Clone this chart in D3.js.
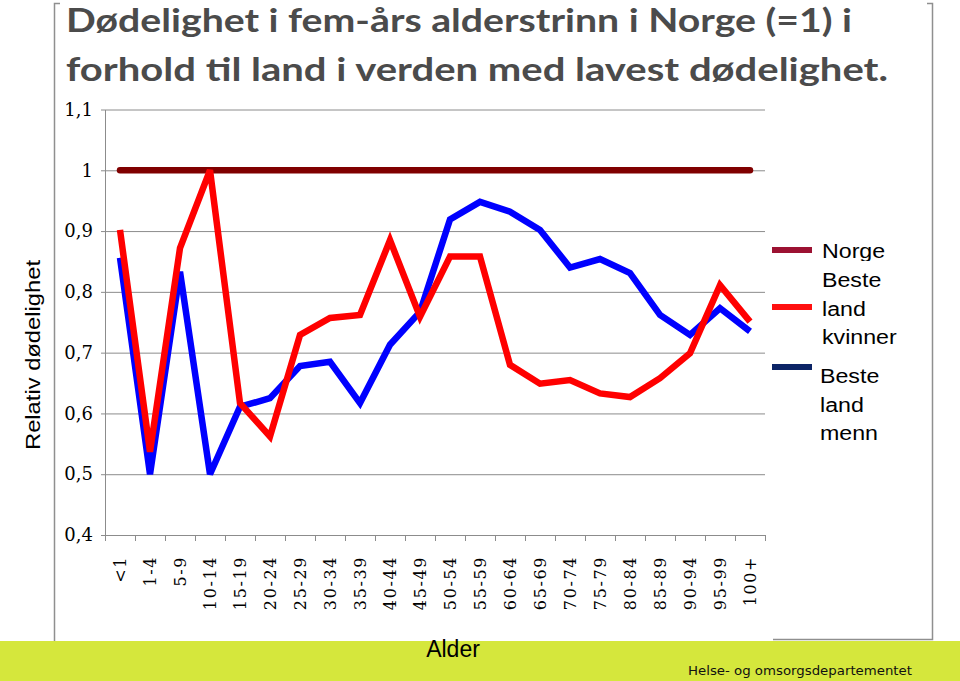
<!DOCTYPE html>
<html><head><meta charset="utf-8">
<script src="https://cdn.jsdelivr.net/npm/d3@7"></script>
<style>html,body{margin:0;padding:0;background:#fff;}svg{display:block;}</style>
</head><body>
<script>
const categories = ["<1","1-4","5-9","10-14","15-19","20-24","25-29","30-34","35-39","40-44","45-49","50-54","55-59","60-64","65-69","70-74","75-79","80-84","85-89","90-94","95-99","100+"];
const norge   = [1,1,1,1,1,1,1,1,1,1,1,1,1,1,1,1,1,1,1,1,1,1];
const kvinner = [0.902,0.537,0.872,1.0,0.617,0.562,0.729,0.757,0.762,0.885,0.759,0.858,0.858,0.680,0.649,0.655,0.633,0.627,0.658,0.699,0.811,0.751];
const menn    = [0.856,0.500,0.833,0.500,0.611,0.625,0.678,0.685,0.617,0.713,0.767,0.919,0.948,0.932,0.902,0.840,0.854,0.831,0.762,0.729,0.773,0.735];
const yTicks = [0.4,0.5,0.6,0.7,0.8,0.9,1.0,1.1];
const yTickLabels = ["0,4","0,5","0,6","0,7","0,8","0,9","1","1,1"];
const titleLines = ["Dødelighet i fem-års alderstrinn i Norge (=1) i","forhold til land i verden med lavest dødelighet."];
const legendItems = [
  {lines:["Norge"], color:"#9c1232"},
  {lines:["Beste","land","kvinner"], color:"#ff1010"},
  {lines:["Beste","land","menn"], color:"#0c2466"}
];

const W = 960, H = 681;
const svg = d3.select("body").append("svg").attr("width", W).attr("height", H);

const x = d3.scaleBand().domain(categories).range([105, 765]);
const y = d3.scaleLinear().domain([0.4, 1.1]).range([535, 109.5]);

// bottom band
svg.append("rect").attr("x",0).attr("y",641).attr("width",W).attr("height",H-641).attr("fill","#d5e73c");

// frame
const frame = svg.append("g").attr("stroke","#8f8f8f").attr("stroke-width",1.5).attr("fill","none");
frame.append("path").attr("d","M60,3.5 H54.5 V641");
frame.append("path").attr("d","M927,3.5 H932.5 V639.5 H773");

// title
const title = svg.append("g").attr("font-family","Lato, 'Open Sans', sans-serif").attr("font-weight","bold")
  .attr("font-size",33).attr("fill","#4b4b4b");
title.append("text").attr("x",66).attr("y",32).attr("textLength",786).attr("lengthAdjust","spacingAndGlyphs").text(titleLines[0]);
title.append("text").attr("x",66).attr("y",81).attr("textLength",822).attr("lengthAdjust","spacingAndGlyphs").text(titleLines[1]);

// gridlines
const grid = svg.append("g").attr("transform","translate(105,0)")
  .call(d3.axisLeft(y).tickValues(yTicks).tickSize(-660).tickFormat(""));
grid.select(".domain").remove();
grid.selectAll("line").attr("stroke","#8c8c8c").attr("stroke-width",1);

// y axis
const yAxis = svg.append("g").attr("transform","translate(105,0)")
  .call(d3.axisLeft(y).tickValues(yTicks).tickSize(4).tickSizeOuter(0).tickPadding(8)
    .tickFormat((d,i)=>yTickLabels[i]));
yAxis.select(".domain").attr("stroke","#8c8c8c");
yAxis.selectAll("line").attr("stroke","#8c8c8c");
yAxis.selectAll("text").attr("font-family","'DejaVu Serif', serif").attr("font-size",18).attr("fill","#000");

// x axis
const xg = svg.append("g");
xg.append("line").attr("x1",x.range()[0]).attr("x2",x.range()[1]).attr("y1",535.5).attr("y2",535.5).attr("stroke","#8c8c8c");
const bounds = categories.map(c=>x(c)).concat([x.range()[1]]);
xg.selectAll(".xt").data(bounds).join("line").attr("class","xt")
  .attr("x1",d=>d+0.5).attr("x2",d=>d+0.5).attr("y1",535).attr("y2",541).attr("stroke","#8c8c8c");
xg.selectAll(".xl").data(categories).join("text").attr("class","xl")
  .attr("transform",d=>`translate(${x(d)+x.bandwidth()/2},556) rotate(-90)`)
  .attr("text-anchor","end").attr("dy","0.35em")
  .attr("font-family","'DejaVu Serif', serif").attr("font-size",16).attr("letter-spacing",1.6)
  .attr("fill","#000").text(d=>d);

// lines
const line = d3.line().x((d,i)=>x(categories[i])+x.bandwidth()/2).y(d=>y(d));
svg.append("path").datum(norge).attr("d",line).attr("fill","none").attr("stroke","#800000")
  .attr("stroke-width",6.5).attr("stroke-linecap","round");
svg.append("path").datum(menn).attr("d",line).attr("fill","none").attr("stroke","#0000ff")
  .attr("stroke-width",6.5).attr("stroke-linejoin","miter").attr("stroke-miterlimit",3);
svg.append("path").datum(kvinner).attr("d",line).attr("fill","none").attr("stroke","#ff0000")
  .attr("stroke-width",6.5).attr("stroke-linejoin","miter").attr("stroke-miterlimit",3);

// y title
svg.append("text").attr("transform","translate(40,355) rotate(-90)").attr("text-anchor","middle")
  .attr("font-family","'Liberation Sans', Arial, sans-serif").attr("font-size",20)
  .attr("textLength",190).attr("lengthAdjust","spacingAndGlyphs").attr("fill","#000").text("Relativ dødelighet");

// x title
svg.append("text").attr("x",453).attr("y",657).attr("text-anchor","middle")
  .attr("font-family","'Liberation Sans', Arial, sans-serif").attr("font-size",23).attr("fill","#000").text("Alder");

// footer
svg.append("text").attr("x",688).attr("y",675)
  .attr("font-family","'DejaVu Sans', Verdana, sans-serif").attr("font-size",13)
  .attr("textLength",224).attr("lengthAdjust","spacingAndGlyphs").attr("fill","#111").text("Helse- og omsorgsdepartementet");

// legend
svg.append("defs").append("clipPath").attr("id","normclip").append("rect")
  .attr("x",-10).attr("y",230).attr("width",120).attr("height",31);
const swatchY = [250, 307, 367];
const textX = [822, 822, 820];
const firstBase = [258, 287, 383];
const leg = svg.append("g");
legendItems.forEach((it,k)=>{
  leg.append("line").attr("x1",772).attr("x2",812).attr("y1",swatchY[k]).attr("y2",swatchY[k])
    .attr("stroke",it.color).attr("stroke-width",6);
  const g = leg.append("g").attr("transform",`translate(${textX[k]},0) scale(1.16,1)`);
  const tg = g.append("g");
  if (k===0) tg.attr("clip-path","url(#normclip)");
  it.lines.forEach((t,j)=>{
    tg.append("text").attr("x",0).attr("y",firstBase[k]+j*28.7)
      .attr("font-family","'Liberation Sans', Arial, sans-serif").attr("font-size",20).attr("fill","#000").text(t);
  });
});
</script>
</body></html>
